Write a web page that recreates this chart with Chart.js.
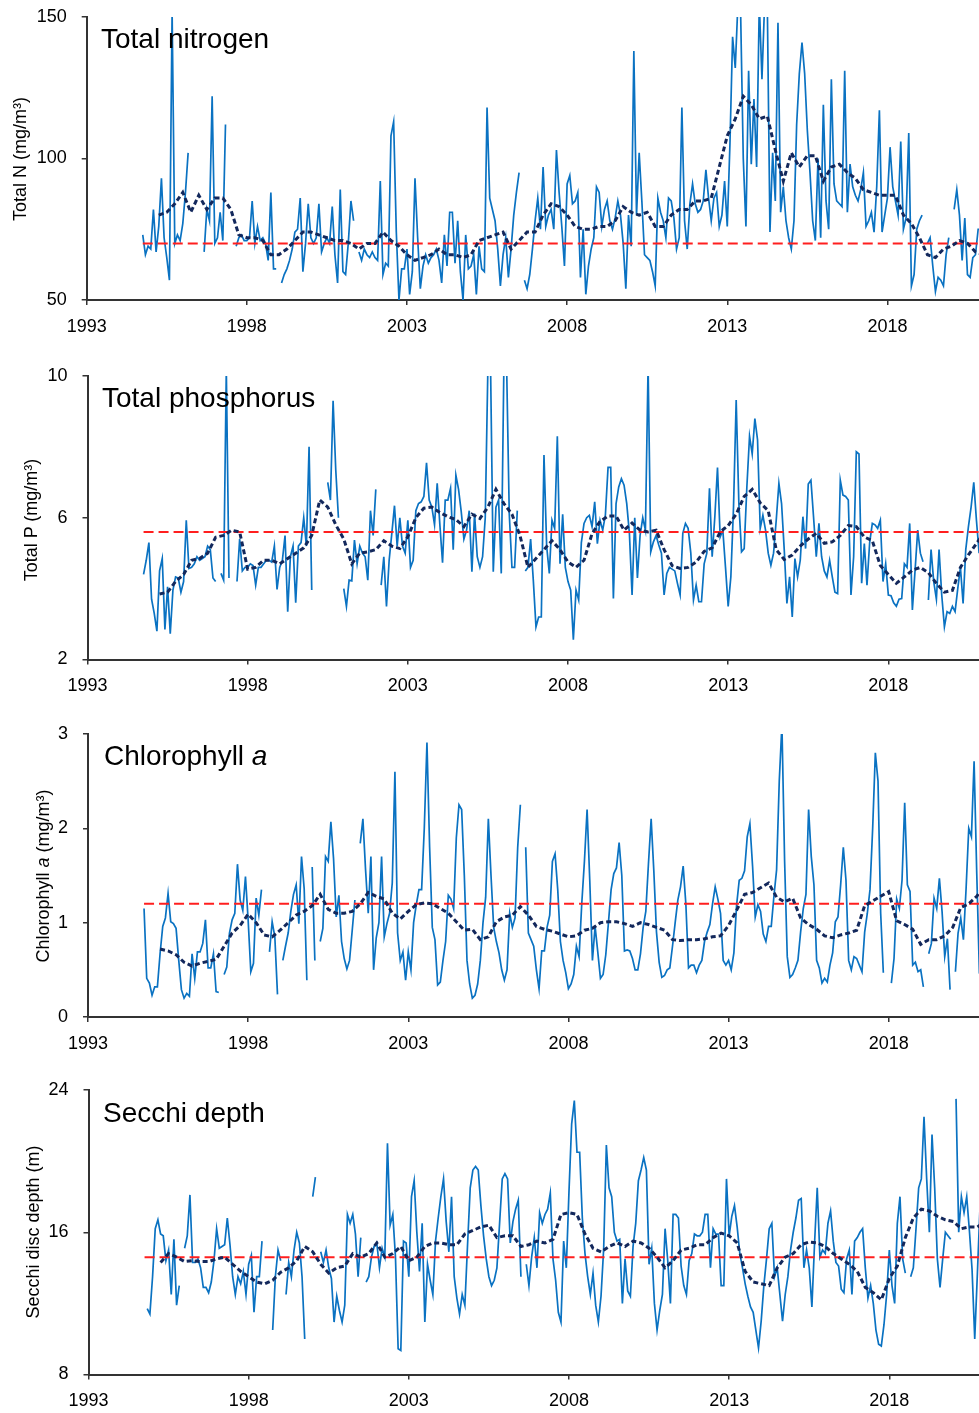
<!DOCTYPE html>
<html lang="en">
<head>
<meta charset="UTF-8">
<title>Lake water quality, monthly series</title>
<script src="https://cdn.jsdelivr.net/npm/chart.js"></script>
<style>
    html, body { margin: 0; padding: 0; background: #fff; overflow: hidden; }
    .page { position: relative; width: 979px; height: 1413px; overflow: hidden;
            font-family: "Liberation Sans", Arial, sans-serif; color: #000; }
    .panel { position: absolute; left: 0; width: 979px; height: 360px; }
    .panel-title { position: absolute; font-size: 28px; line-height: 28px; white-space: nowrap; }
    .axis-title { position: absolute; width: 300px; height: 20px; line-height: 20px; font-size: 18px;
                  text-align: center; white-space: nowrap; transform: rotate(-90deg); }
</style>
</head>
<body>
<div class="page">
    <div class="panel" style="top:0px"><canvas id="chartN" width="979" height="360"></canvas></div>
    <div class="panel" style="top:359px"><canvas id="chartP" width="979" height="360"></canvas></div>
    <div class="panel" style="top:717px"><canvas id="chartChl" width="979" height="360"></canvas></div>
    <div class="panel" style="top:1073px"><canvas id="chartSecchi" width="979" height="360"></canvas></div>

    <div class="panel-title" style="left:101px; top:25px">Total nitrogen</div>
    <div class="panel-title" style="left:102px; top:384px">Total phosphorus</div>
    <div class="panel-title" style="left:104px; top:742px">Chlorophyll <i>a</i></div>
    <div class="panel-title" style="left:103px; top:1099px">Secchi depth</div>

    <div class="axis-title" style="left:-130px; top:149px">Total N (mg/m³)</div>
    <div class="axis-title" style="left:-119px; top:510px">Total P (mg/m³)</div>
    <div class="axis-title" style="left:-107px; top:866px">Chlorophyll <i>a</i> (mg/m³)</div>
    <div class="axis-title" style="left:-117px; top:1222px">Secchi disc depth (m)</div>
</div>

<script>
// monthly series start Oct 1994; running means are read every quarter from 1995.25
const seriesStart = 1994.75;
const meanStart = 1995.25;
const yearTicks = [1993, 1998, 2003, 2008, 2013, 2018];

const totalN = [
    73, 66, 69,
    68, 82, 67, 76, 93, 72, 65, 57, 152, 70, 73, 71,
    77, 88, 102, null, null, null, null, null, 67, 82, 78, 122,
    70, 72, 81, 71, 112, null, null, null, 69, 72, 73, 71,
    71, 72, 85, 70, 76, 71, 72, 70, 64, 88, 61, 61,
    null, 56, 59, 61, 64, 68, 74, 75, 86, 60, 70, 84,
    72, 70, 72, 84, 67, 70, 72, 70, 83, 66, 56, 89,
    60, 59, 70, 85, 78, null, 67, 64, 68, 66, 65, 67,
    65, 64, 92, 59, 63, 62, 108, 113, 74, 50, 61, 61,
    68, 52, 60, 93, 72, 54, 62, 66, 63, 65, 66, 68,
    64, 56, 73, 62, 81, 81, 63, 78, 60, 50, 73, 61,
    62, 66, 52, 69, 61, 60, 118, 86, 82, 78, 68, 55,
    66, 72, 58, 68, 80, 88, 95, null, 57, 54, 59, 68,
    78, 86, 75, 97, 76, 80, 82, 75, 103, 88, 76, 62,
    91, 94, 84, 85, 88, 58, 75, 52, 62, 68, 72, 90,
    88, 76, 82, 85, 78, 75, 79, 85, 80, 70, 54, 80,
    69, 138, 80, 102, 85, 66, 65, 64, 60, 55, 86, 81,
    78, 72, 86, 85, 79, 68, 72, 118, 78, 68, 84, 91,
    84, 81, 82, 85, 96, 86, 78, 86, 88, 76, 80, 92,
    76, 105, 143, 132, 155, 152, 100, 76, 131, 98, 121, 97,
    155, 128, 155, 155, 74, 102, 85, 148, 81, 90, 78, 72,
    68, 78, 112, 130, 141, 130, 110, 95, 78, 71, 100, 72,
    119, 85, 75, 128, 91, 85, 84, 83, 131, 81, 98, 90,
    87, 85, 89, 95, 76, 78, 81, 74, 90, 117, 74, 80,
    86, 104, 90, 85, 80, 106, 75, 79, 109, 55, 59, 75,
    78, 80, null, 70, 72, 62, 53, 58, 57, 55, 66, 72,
    null, 82, 89, 80, 64, 79, 59, 58, 65, 66, 75, 75
];
const totalNMean = [
    80, 81, 84,
    88, 81, 87, 82,  86, 86, 82, 73,  72, 72, 71, 66,  66, 68, 71, 74,
    74, 73, 72, 71,  71, 70, 68, 70,  70, 74, 71, 69,  66, 64, 65, 66,
    68, 66, 66, 65,  66, 71, 72, 73,  74, 68, 71, 74,  74, 80, 84, 83,
    80, 76, 75, 75,  76, 76, 78, 83,  81, 80, 81, 76,  76, 80, 82, 82,
    85, 85, 86, 97,  108, 114, 122, 119,  114, 115, 103, 92,  102, 97, 101, 101,
    92, 97, 98, 95,  93, 89, 88, 87,  87, 87, 80, 77,  72, 66, 65, 68,
    69, 71, 70, 67,  66
];
const totalNRef = 70;
const totalNTicks = [50, 100, 150];

const totalP = [
    4.4, 4.8, 5.3,
    3.7, 3.3, 2.8, 4.5, 4.85, 2.85, 4.05, 2.73, 3.96, 4.33, 4.3, 3.9,
    4.2, 5.93, 4.57, 4.6, 4.7, 4.9, 4.8, 4.85, 4.9, 5.2, 5.1, 4.3,
    4.2, null, 4.43, 4.24, 10.2, 4.3, null, null, 4.2, 5.4, 4.5, 4.6,
    4.6, 4.7, 4.65, 4.1, 4.6, 4.6, 4.7, 4.8, 4.8, 4.75, 5.2, 3.98,
    4.6, 4.8, 5.5, 3.35, 4.9, 5.2, 3.6, 5.2, 5.3, 6.0, 5.2, 8.0,
    3.96, null, null, null, null, null, 7.0, 6.5, 9.3, 7.35, 6.0, null,
    4.0, 3.5, 4.24, 4.22, 5.37, 4.7, 5.2, 5.0, 4.9, 4.24, 6.2, 5.5,
    6.8, null, 4.1, 4.9, 3.5, 4.8, 5.56, 6.34, 5.2, 6.0, 5.2, 5.0,
    5.93, 4.6, 4.8, 6.2, 6.4, 6.45, 6.6, 7.55, 6.5, 6.3, 5.8, 6.97,
    5.8, 4.73, 6.5, 6.5, 6.83, 5.1, 7.2, 6.8, 6.17, 5.4, 5.65, 6.2,
    4.48, 6.12, 4.9, 4.6, 4.9, 6.0, 10.3, 10.2, 4.48, 6.3, 6.5, 4.43,
    10.4, 10.3, 6.1, 4.6, 4.6, 6.2, null, null, 4.5, 4.6, 5.4, 4.24,
    2.92, 3.2, 3.2, 7.77, 5.2, 4.43, 5.93, 5.7, 8.3, 4.7, 6.1, 4.6,
    4.2, 3.96, 2.56, 3.96, 3.68, 5.3, 5.84, 6.0, 6.07, 5.75, 6.45, 5.27,
    5.93, 5.65, 6.07, 7.42, 7.42, 3.72, 6.4, 6.87, 7.1, 6.92, 6.4, 5.56,
    3.82, 6.0, 4.3, 5.5, 6.0, 5.65, 10.3, 5.04, 5.32, 5.5, 5.23, 5.0,
    3.82, 4.43, 4.6, 4.55, 4.5, 4.15, 3.82, 5.56, 5.84, 5.7, 5.0, 3.68,
    4.1, 3.63, 3.63, 4.7, 5.0, 6.83, 4.9, 6.03, 7.42, 5.46, 5.65, 4.6,
    3.5, 4.33, 6.3, 9.32, 6.4, 5.04, 5.13, 6.87, 8.3, 7.8, 8.8, 8.2,
    5.7, 6.07, 5.65, 5.0, 4.66, 5.0, 5.93, 6.97, 6.4, 5.1, 3.58, 4.33,
    3.2, 4.85, 4.33, 4.8, 6.03, 5.13, 6.95, 7.06, 6.0, 4.9, 5.84, 4.9,
    4.5, 4.33, 4.8, 4.33, 3.9, 3.86, 7.06, 6.64, 6.6, 6.5, 3.82, 4.9,
    7.86, 7.8, 4.15, 5.27, 4.1, 5.3, 5.84, 5.8, 5.7, 5.93, 4.2, 4.7,
    3.82, 3.8, 3.6, 3.5, 3.7, 3.72, 4.7, 4.6, 5.84, 3.4, 4.5, 5.65,
    5.0, 4.76, null, 3.68, 5.1, 4.2, 3.7, 5.1, 3.82, 2.92, 3.35, 3.3,
    3.5, 3.35, 4.0, 4.6, 3.58, 5.1, 5.75, 6.3, 7.0, 5.93, 5.0, 4.8
];
const totalPMean = [
    3.85, 3.9, 4.2,
    4.4, 4.8, 4.85, 5.0,  5.45, 5.5, 5.65, 5.6,  4.55, 4.6, 4.8, 4.8,  4.7, 4.85, 5.0, 5.15,
    5.5, 6.5, 6.3, 5.8,  5.4, 4.7, 5.0, 5.04,  5.1, 5.35, 5.2, 5.13,  5.46, 6.0, 6.27, 6.3,
    6.15, 6.03, 5.95, 5.75,  6.1, 5.98, 6.3, 6.8,  6.4, 6.1, 5.5, 4.6,  4.85, 5.1, 5.35, 5.1,
    4.75, 4.6, 4.8, 5.55,  5.9, 6.05, 6.05, 5.65,  5.85, 5.65, 5.6, 5.65,  5.1, 4.65, 4.57, 4.6,
    4.75, 5.05, 5.15, 5.6,  5.78, 6.1, 6.6, 6.8,  6.42, 6.2, 5.1, 4.82,  4.95, 5.2, 5.4, 5.56,
    5.28, 5.32, 5.5, 5.78,  5.75, 5.46, 5.35, 4.65,  4.4, 4.15, 4.33, 4.52,  4.6, 4.45, 4.15, 3.9,
    3.95, 4.6, 4.95, 5.27,  5.6
];
const totalPRef = 5.6;
const totalPTicks = [2, 6, 10];

const chlA = [
    1.15, 0.41, 0.36,
    0.23, 0.32, 0.32, 0.67, 0.96, 1.05, 1.31, 1.01, 0.99, 0.94, 0.6, 0.29,
    0.2, 0.25, 0.22, 0.67, 0.41, 0.69, 0.69, 0.78, 1.03, 0.52, 0.52, 0.67,
    0.27, 0.26, null, 0.45, 0.53, 0.89, 1.03, 1.1, 1.62, 1.24, 1.13, 1.49,
    1.03, 0.48, 0.57, 1.26, 1.08, 1.35, null, null, 0.69, 1.01, 0.85, 0.24,
    null, 0.6, 0.75, 0.89, 1.12, 1.3, 1.4, 0.99, 1.7, 1.36, 0.39, null,
    1.59, 0.6, null, 0.8, 0.94, 1.7, 1.65, 2.07, 1.68, 1.06, 1.29, 0.8,
    0.62, 0.51, 0.6, 0.92, 1.24, null, 1.84, 2.1, 1.56, 1.1, 1.7, 0.5,
    0.84, 1.0, 1.7, 0.85, 0.99, 1.1, 1.42, 2.6, 0.89, 0.6, 0.69, 0.39,
    0.69, 0.5, 1.0, 1.19, 1.35, 1.35, 2.0, 2.91, 1.8, 0.95, 0.82, 0.34,
    0.37, 0.6, 0.8, 1.29, 1.25, 1.15, 1.9, 2.25, 2.2, 1.5, 0.6, 0.35,
    0.2, 0.23, 0.35, 0.6, 1.0, 1.27, 2.1, 1.5, 0.95, 0.8, 0.68, 0.5,
    0.39, 0.5, 1.1, 0.95, 1.05, 1.8, 2.25, null, 1.8, 0.89, 0.82, 0.75,
    0.5, 0.3, 0.7, 0.7, 0.95, 1.08, 1.65, 1.73, 1.35, 0.8, 0.6, 0.47,
    0.3, 0.35, 0.45, 0.75, 0.64, 1.2, 1.65, 2.2, 1.45, 0.6, 0.96, 0.69,
    0.41, 0.45, 0.66, 1.0, 1.35, 1.52, 1.58, 1.85, 1.5, 0.7, 0.71, 0.7,
    0.62, 0.5, 0.5, 0.67, 0.95, 1.12, 1.63, 2.1, 1.55, 0.9, 0.58, 0.42,
    0.44, 0.5, 0.52, 0.75, 1.0, 1.24, 1.38, 1.6, 1.2, 0.52, 0.55, 0.55,
    0.47, 0.55, 0.6, 0.8, 0.9, 0.98, 1.2, 1.38, 1.25, 1.1, 0.6, 0.55,
    0.6, 0.5, 0.68, 1.18, 1.45, 1.47, 1.55, 1.91, 2.05, 1.6, 1.06, 1.19,
    1.12, 0.88, 0.8, 0.96, 0.96, 1.28, 1.56, 2.5, 3.1, 1.66, 0.64, 0.42,
    0.45, 0.52, 0.6, 0.9, 1.15, 1.3, 2.2, 1.7, 1.4, 0.6, 0.52, 0.36,
    0.41, 0.37, 0.55, 0.68, 1.01, 1.06, 1.4, 1.8, 1.45, 0.6, 0.5, 0.64,
    0.62, 0.55, 0.48, 0.9, 1.1, 1.35, 2.0, 2.8, 2.5, 1.1, 0.47, null,
    null, 0.36, 0.62, 1.25, 1.15, 1.45, 2.27, 1.4, 1.33, 0.55, 0.58, 0.48,
    0.5, 0.32, null, 0.67, 0.78, 1.26, 1.15, 1.47, 1.12, 0.64, 0.83, 0.29,
    null, 0.48, 0.89, 1.05, 0.82, 1.36, 2.0, 1.91, 2.71, 1.52, 0.46, 0.4
];
const chlAMean = [
    0.72, 0.7, 0.66,
    0.58, 0.54, 0.57, 0.59,  0.61, 0.75, 0.89, 0.97,  1.09, 1.0, 0.87, 0.85,  0.92, 1.0, 1.08, 1.12,
    1.18, 1.3, 1.14, 1.1,  1.1, 1.12, 1.2, 1.32,  1.28, 1.25, 1.1, 1.04,  1.12, 1.19, 1.21, 1.2,
    1.15, 1.1, 1.01, 0.92,  0.93, 0.82, 0.85, 1.01,  1.06, 1.08, 1.17, 1.08,  0.96, 0.93, 0.91, 0.88,
    0.85, 0.86, 0.92, 0.94,  1.0, 1.01, 1.01, 0.99,  0.96, 1.0, 0.98, 0.95,  0.92, 0.82, 0.81, 0.82,
    0.82, 0.83, 0.85, 0.86,  0.97, 1.13, 1.3, 1.32,  1.37, 1.42, 1.27, 1.22,  1.26, 1.05, 0.98, 0.93,
    0.86, 0.84, 0.87, 0.89,  0.92, 1.18, 1.23, 1.28,  1.33, 1.02, 0.98, 0.93,  0.77, 0.82, 0.82, 0.86,
    0.95, 1.16, 1.2, 1.28,  1.4
];
const chlARef = 1.2;
const chlATicks = [0, 1, 2, 3];

const secchi = [
    null, 11.7, 11.4,
    13.5, 16.2, 16.7, 15.9, 15.8, 14.4, 15.0, 12.5, 15.6, 11.9, 13.0, null,
    15.1, 15.8, 18.1, 14.3, 14.3, 14.5, 14.0, 12.9, 12.9, 12.6, 13.2, 14.4,
    16.2, 15.1, 15.2, 15.3, 16.8, 15.3, 13.5, 12.5, 13.5, 13.1, 13.8, 12.5,
    14.2, 14.7, 11.5, 13.5, 13.5, 15.5, null, null, null, 10.5, 13.5, 15.0,
    14.4, null, 12.5, 14.3, 13.5, 15.0, 16.0, 15.4, 13.5, 10.0, null, null,
    18.0, 19.1, null, 14.9, 14.3, 15.0, 14.0, 13.4, 10.95, 12.4, 11.6, 10.95,
    11.9, 17.0, 16.5, 17.0, 15.9, 13.5, 15.7, null, 13.2, 13.5, 14.6, 15.2,
    15.4, 14.0, 15.1, 14.6, 21.0, 16.4, 17.0, 14.6, 9.45, 9.35, 15.5, 15.4,
    13.5, 18.0, 18.9, 16.0, 13.8, 16.5, 10.95, 14.2, 13.3, 12.5, 15.5, 16.8,
    18.0, 19.0, 16.6, 14.9, 18.0, 13.5, 12.3, 11.4, 12.5, 11.9, 15.3, 18.5,
    19.5, 19.7, 19.5, 17.5, 15.8, 14.5, 13.5, 13.0, 13.3, 14.0, 16.5, 19.0,
    19.3, 19.0, 15.4, 16.6, 17.3, 17.8, 13.5, null, 14.2, 13.0, 14.6, 15.7,
    14.0, 17.1, 16.5, 17.0, 17.3, 18.2, 14.5, 13.3, 11.5, 10.95, 15.5, 14.0,
    18.3, 22.1, 23.4, 20.5, 20.5, 16.8, 14.8, 13.5, 12.5, 13.7, 11.9, 10.95,
    12.4, 15.1, 20.9, 18.5, 18.0, 16.0, 15.5, 15.6, 12.0, 14.5, 12.7, 12.4,
    15.2, 16.5, 18.9, 19.5, 20.2, 19.5, 14.2, 15.1, 12.0, 10.5, 11.6, 12.5,
    16.2, 14.4, 12.0, 17.0, 17.0, 16.8, 14.1, 13.0, 12.5, 14.4, 14.8, 15.9,
    15.8, 15.8, 16.0, 17.0, 17.0, 14.0, 16.2, 15.9, 15.9, 13.0, 13.0, 19.0,
    15.8, 16.9, 17.5, 16.3, 14.8, 14.0, 13.1, 12.4, 11.8, 11.5, 10.5, 9.5,
    11.0, 13.0, 14.5, 16.2, 16.5, 13.5, 14.0, 12.5, 11.0, 12.5, 13.5, 15.0,
    16.0, 16.8, 17.8, 17.9, 14.0, 15.0, 14.0, 11.8, 15.4, 18.5, 14.6, 15.0,
    14.8, 16.5, 17.2, 15.5, 14.3, 14.1, 12.8, 12.6, 14.5, 15.0, 12.5, 15.5,
    15.7, 16.0, 16.2, 14.0, 12.3, 13.0, 12.0, 10.5, 9.7, 9.6, 10.8, 12.5,
    15.0, 13.0, 12.0, 16.5, 18.0, 14.5, 13.7, null, 13.5, 14.0, 16.2, 18.5,
    19.0, 22.5, 19.0, 16.0, 21.5, 18.5, 14.5, 12.9, 14.5, 16.0, 15.8, 15.6,
    null, 23.5, 16.0, 18.0, 17.1, 18.0, 16.1, 13.9, 10.0, 13.7, 17.5, 16.5
];
const secchiMean = [
    14.3, 14.8, 14.6,
    14.35, 14.4, 14.35, 14.35,  14.5, 14.6, 14.2, 13.8,  13.5, 13.2, 13.1, 13.3,  13.75, 14.0, 14.4, 15.2,
    14.9, 14.2, 13.7, 14.0,  14.1, 14.8, 14.6, 14.8,  15.4, 14.6, 14.8, 15.2,  14.4, 14.6, 15.2, 15.4,
    15.4, 15.3, 15.3, 15.9,  16.1, 16.3, 16.4, 15.7,  15.8, 15.8, 15.2, 15.3,  15.5, 15.4, 15.6, 17.0,
    17.1, 17.0, 15.9, 15.1,  14.9, 15.2, 15.4, 15.2,  15.5, 15.4, 15.1, 14.6,  14.0, 14.4, 15.0, 15.1,
    15.3, 15.3, 15.7, 15.95,  15.8, 15.4, 13.8, 13.2,  13.1, 13.0, 14.0, 14.6,  14.8, 15.3, 15.45, 15.4,
    15.2, 14.8, 14.5, 14.2,  13.8, 12.9, 12.6, 12.2,  13.4, 14.1, 15.7, 16.8,  17.3, 17.2, 16.9, 16.7,
    16.6, 16.2, 16.3, 16.3,  16.6
];
const secchiRef = 14.6;
const secchiTicks = [8, 16, 24];

const fontFamily = '"Liberation Sans", Arial, sans-serif';
const axisColor = '#333333';

function makePanel(canvasId, p) {
    const monthly = p.values.map((v, i) => ({ x: seriesStart + i / 12, y: v }));
    const running = p.mean.map((v, i) => ({ x: meanStart + i / 4, y: v }));
    const refLine = [{ x: seriesStart, y: p.ref }, { x: 2022, y: p.ref }];

    return new Chart(document.getElementById(canvasId), {
        type: 'line',
        data: {
            datasets: [
                { data: running, borderColor: '#13285c', borderWidth: 3, borderDash: [5, 3],
                  pointRadius: 0, tension: 0, clip: 0 },
                { data: refLine, borderColor: '#ff1f1f', borderWidth: 2, borderDash: [10, 5],
                  pointRadius: 0, clip: 0 },
                { data: monthly, borderColor: '#0a72c2', borderWidth: 1.7, pointRadius: 0,
                  tension: 0, spanGaps: false, clip: 0 }
            ]
        },
        options: {
            responsive: false,
            animation: false,
            layout: { padding: { top: 17, right: 0, bottom: 0, left: 0 } },
            plugins: { legend: { display: false }, tooltip: { enabled: false } },
            scales: {
                x: {
                    type: 'linear',
                    min: 1993,
                    max: p.xMax,
                    afterBuildTicks: s => { s.ticks = yearTicks.map(v => ({ value: v })); },
                    afterFit: s => { s.height = 360 - 17 - p.plotH; s.paddingRight = 0; },
                    grid: { drawOnChartArea: false, drawTicks: true, tickLength: 5, color: axisColor, lineWidth: 1.5 },
                    border: { display: true, color: axisColor, width: 2 },
                    ticks: { padding: 11, color: '#000', maxRotation: 0, autoSkip: false,
                             font: { family: fontFamily, size: 18 }, callback: v => String(v) }
                },
                y: {
                    min: p.ticks[0],
                    max: p.ticks[p.ticks.length - 1],
                    afterBuildTicks: s => { s.ticks = p.ticks.map(v => ({ value: v })); },
                    afterFit: s => { s.width = p.left; s.paddingTop = 0; s.paddingBottom = 0; },
                    grid: { drawOnChartArea: false, drawTicks: true, tickLength: 5, color: axisColor, lineWidth: 1.5 },
                    border: { display: true, color: axisColor, width: 2 },
                    ticks: { padding: 15, color: '#000', font: { family: fontFamily, size: 18 },
                             callback: v => String(v) }
                }
            }
        }
    });
}

makePanel('chartN', { values: totalN, mean: totalNMean, ref: totalNRef, ticks: totalNTicks,
                      left: 86.7, plotH: 283, xMax: 2020.86 });
makePanel('chartP', { values: totalP, mean: totalPMean, ref: totalPRef, ticks: totalPTicks,
                      left: 87.5, plotH: 283.5, xMax: 2020.83 });
makePanel('chartChl', { values: chlA, mean: chlAMean, ref: chlARef, ticks: chlATicks,
                        left: 88, plotH: 283, xMax: 2020.82 });
makePanel('chartSecchi', { values: secchi, mean: secchiMean, ref: secchiRef, ticks: secchiTicks,
                           left: 88.5, plotH: 284.5, xMax: 2020.8 });
</script>
</body>
</html>
